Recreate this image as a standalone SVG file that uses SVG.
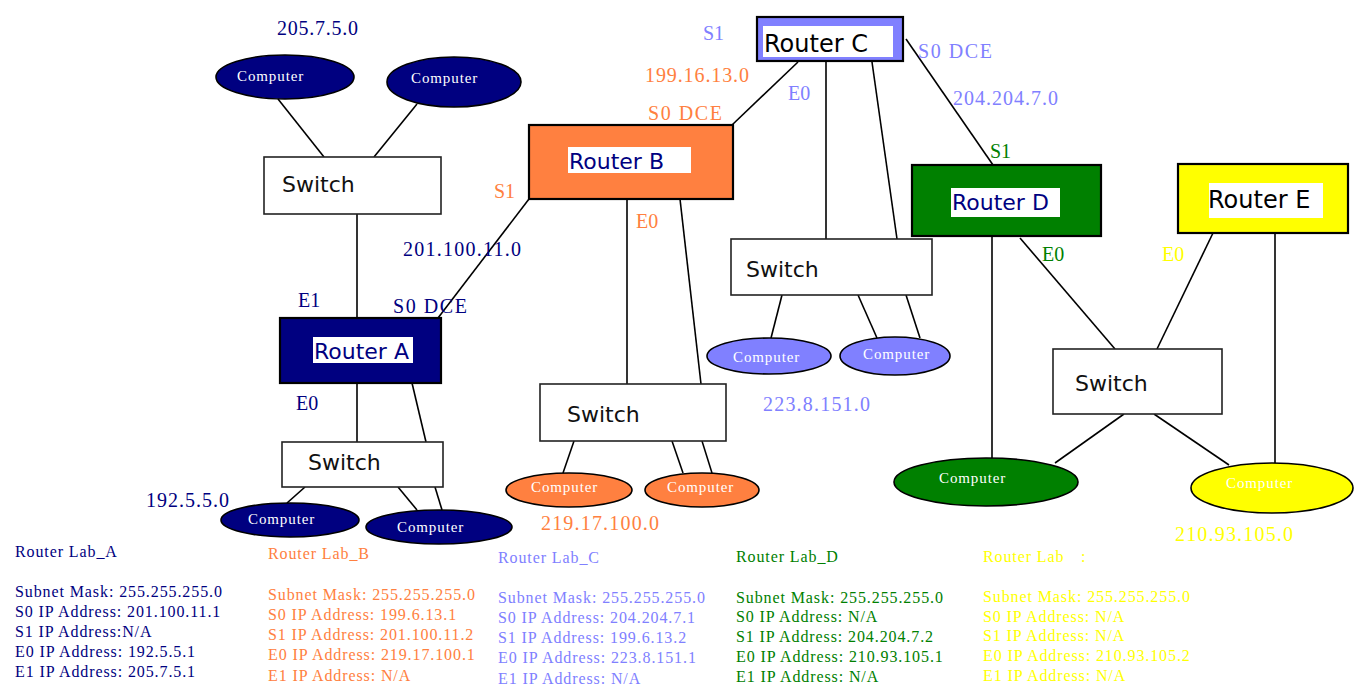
<svg xmlns="http://www.w3.org/2000/svg" width="1356" height="698" viewBox="0 0 1356 698">
<style>
.bg{fill:#ffffff}
.ln{stroke:#000;stroke-width:1.6;fill:none}
.sw rect{fill:#fff;stroke:#222;stroke-width:1.6}
.sw text{font-family:"DejaVu Sans",Verdana,sans-serif;font-size:22px;fill:#111}
.rt .box{stroke:#000;stroke-width:2.2}
.rt .in{fill:#fff;stroke:none}
.rt text{font-family:"DejaVu Sans",Verdana,sans-serif;font-size:22px}
.pc ellipse{stroke:#000;stroke-width:1.6}
.pc text{font-family:"Liberation Serif","Times New Roman",serif;font-size:15px;fill:#fff;letter-spacing:0.9px}
.lb{font-family:"Liberation Serif","Times New Roman",serif;font-size:20px}
.blk text{font-family:"Liberation Serif","Times New Roman",serif;font-size:16px;letter-spacing:0.9px}
.navy{fill:#000080}.org{fill:#ff8040}.pur{fill:#8080ff}.grn{fill:#008000}.yel{fill:#ffff00}
</style>
<rect class="bg" x="0" y="0" width="1356" height="698"/>

<g id="connectors">
<line class="ln" x1="278" y1="99" x2="324" y2="157"/>
<line class="ln" x1="417" y1="104" x2="374" y2="157"/>
<line class="ln" x1="357" y1="214" x2="357" y2="318"/>
<line class="ln" x1="357" y1="383" x2="357" y2="442"/>
<line class="ln" x1="412" y1="383" x2="426" y2="442"/>
<line class="ln" x1="305" y1="487" x2="287" y2="503"/>
<line class="ln" x1="398" y1="487" x2="417" y2="510"/>
<line class="ln" x1="435" y1="487" x2="442" y2="510"/>
<line class="ln" x1="438" y1="318" x2="529" y2="199"/>
<line class="ln" x1="732" y1="125" x2="798" y2="62"/>
<line class="ln" x1="627" y1="199" x2="627" y2="384"/>
<line class="ln" x1="680" y1="199" x2="701" y2="384"/>
<line class="ln" x1="574" y1="441" x2="563" y2="473"/>
<line class="ln" x1="672" y1="441" x2="683" y2="473"/>
<line class="ln" x1="702" y1="441" x2="712" y2="473"/>
<line class="ln" x1="826" y1="62" x2="826" y2="239"/>
<line class="ln" x1="872" y1="62" x2="897" y2="239"/>
<line class="ln" x1="906" y1="39" x2="993" y2="165"/>
<line class="ln" x1="782" y1="295" x2="771" y2="338"/>
<line class="ln" x1="858" y1="295" x2="877" y2="338"/>
<line class="ln" x1="906" y1="295" x2="920" y2="338"/>
<line class="ln" x1="992" y1="236" x2="992" y2="458"/>
<line class="ln" x1="1020" y1="238" x2="1115" y2="349"/>
<line class="ln" x1="1213" y1="233" x2="1157" y2="349"/>
<line class="ln" x1="1275" y1="233" x2="1275" y2="463"/>
<line class="ln" x1="1124" y1="414" x2="1055" y2="463"/>
<line class="ln" x1="1154" y1="414" x2="1229" y2="465"/>
</g>

<g id="routerC" class="rt">
<rect class="box" x="757" y="17" width="146" height="44" fill="#8080ff"/>
<rect class="in" x="763" y="26" width="130" height="31"/>
<text x="764" y="52" style="font-size:24px" fill="#000">Router C</text>
</g>
<g id="routerB" class="rt">
<rect class="box" x="529" y="125" width="204" height="74" fill="#ff8040"/>
<rect class="in" x="568" y="147" width="123" height="26"/>
<text x="569" y="169" fill="#000080">Router B</text>
</g>
<g id="routerA" class="rt">
<rect class="box" x="280" y="318" width="161" height="65" fill="#000080"/>
<rect class="in" x="313" y="337" width="100" height="26"/>
<text x="314" y="359" fill="#000080">Router A</text>
</g>
<g id="routerD" class="rt">
<rect class="box" x="912" y="165" width="189" height="71" fill="#008000"/>
<rect class="in" x="951" y="188" width="109" height="29"/>
<text x="952" y="210" fill="#000080">Router D</text>
</g>
<g id="routerE" class="rt">
<rect class="box" x="1178" y="164" width="170" height="69" fill="#ffff00"/>
<rect class="in" x="1209" y="183" width="114" height="35"/>
<text x="1208" y="208" style="font-size:24px" fill="#000">Router E</text>
</g>

<g id="switchTop" class="sw"><rect x="264" y="157" width="177" height="57"/><text x="282" y="192">Switch</text></g>
<g id="switchA" class="sw"><rect x="282" y="442" width="161" height="45"/><text x="308" y="470">Switch</text></g>
<g id="switchB" class="sw"><rect x="540" y="384" width="186" height="57"/><text x="567" y="422">Switch</text></g>
<g id="switchC" class="sw"><rect x="731" y="239" width="201" height="56"/><text x="746" y="277">Switch</text></g>
<g id="switchDE" class="sw"><rect x="1053" y="349" width="169" height="65"/><text x="1075" y="391">Switch</text></g>

<g id="pcTop1" class="pc"><ellipse cx="285" cy="77" rx="69" ry="22" fill="#000080"/><text x="237" y="81">Computer</text></g>
<g id="pcTop2" class="pc"><ellipse cx="454" cy="82" rx="67" ry="25" fill="#000080"/><text x="411" y="83">Computer</text></g>
<g id="pcA1" class="pc"><ellipse cx="290" cy="520" rx="69" ry="17" fill="#000080"/><text x="248" y="524">Computer</text></g>
<g id="pcA2" class="pc"><ellipse cx="439" cy="527" rx="73" ry="17" fill="#000080"/><text x="397" y="532">Computer</text></g>
<g id="pcB1" class="pc"><ellipse cx="569" cy="490" rx="63" ry="17" fill="#ff8040"/><text x="531" y="492">Computer</text></g>
<g id="pcB2" class="pc"><ellipse cx="702" cy="490" rx="57" ry="17" fill="#ff8040"/><text x="667" y="492">Computer</text></g>
<g id="pcC1" class="pc"><ellipse cx="769" cy="356" rx="62" ry="18" fill="#8080ff"/><text x="733" y="362">Computer</text></g>
<g id="pcC2" class="pc"><ellipse cx="895" cy="356" rx="55" ry="19" fill="#8080ff"/><text x="863" y="359">Computer</text></g>
<g id="pcD" class="pc"><ellipse cx="986" cy="482" rx="92" ry="24" fill="#008000"/><text x="939" y="483">Computer</text></g>
<g id="pcE" class="pc"><ellipse cx="1272" cy="488" rx="81" ry="25" fill="#ffff00"/><text x="1226" y="488">Computer</text></g>

<g id="labels" class="lb">
<text class="navy" x="277" y="35" textLength="81" lengthAdjust="spacing">205.7.5.0</text>
<text class="navy" x="403" y="256" textLength="118" lengthAdjust="spacing">201.100.11.0</text>
<text class="navy" x="298" y="307">E1</text>
<text class="navy" x="393" y="313" textLength="74" lengthAdjust="spacing">S0 DCE</text>
<text class="navy" x="296" y="410">E0</text>
<text class="navy" x="146" y="507" textLength="83" lengthAdjust="spacing">192.5.5.0</text>
<text class="org" x="645" y="82" textLength="104" lengthAdjust="spacing">199.16.13.0</text>
<text class="org" x="648" y="120" textLength="74" lengthAdjust="spacing">S0 DCE</text>
<text class="org" x="494" y="198">S1</text>
<text class="org" x="636" y="228">E0</text>
<text class="org" x="541" y="530" textLength="118" lengthAdjust="spacing">219.17.100.0</text>
<text class="pur" x="703" y="40">S1</text>
<text class="pur" x="918" y="58" textLength="74" lengthAdjust="spacing">S0 DCE</text>
<text class="pur" x="788" y="100">E0</text>
<text class="pur" x="953" y="105" textLength="105" lengthAdjust="spacing">204.204.7.0</text>
<text class="pur" x="763" y="411" textLength="107" lengthAdjust="spacing">223.8.151.0</text>
<text class="grn" x="990" y="158">S1</text>
<text class="grn" x="1042" y="261">E0</text>
<text class="yel" x="1162" y="261">E0</text>
<text class="yel" x="1175" y="541" textLength="118" lengthAdjust="spacing">210.93.105.0</text>
</g>

<g id="infoA" class="blk navy">
<text x="15" y="557">Router Lab_A</text>
<text x="15" y="597">Subnet Mask: 255.255.255.0</text>
<text x="15" y="617">S0 IP Address: 201.100.11.1</text>
<text x="15" y="637">S1 IP Address:N/A</text>
<text x="15" y="657">E0 IP Address: 192.5.5.1</text>
<text x="15" y="677">E1 IP Address: 205.7.5.1</text>
</g>
<g id="infoB" class="blk org">
<text x="268" y="559">Router Lab_B</text>
<text x="268" y="600">Subnet Mask: 255.255.255.0</text>
<text x="268" y="620">S0 IP Address: 199.6.13.1</text>
<text x="268" y="640">S1 IP Address: 201.100.11.2</text>
<text x="268" y="660">E0 IP Address: 219.17.100.1</text>
<text x="268" y="681">E1 IP Address: N/A</text>
</g>
<g id="infoC" class="blk pur">
<text x="498" y="563">Router Lab_C</text>
<text x="498" y="603">Subnet Mask: 255.255.255.0</text>
<text x="498" y="623">S0 IP Address: 204.204.7.1</text>
<text x="498" y="643">S1 IP Address: 199.6.13.2</text>
<text x="498" y="663">E0 IP Address: 223.8.151.1</text>
<text x="498" y="684">E1 IP Address: N/A</text>
</g>
<g id="infoD" class="blk grn">
<text x="736" y="562">Router Lab_D</text>
<text x="736" y="603">Subnet Mask: 255.255.255.0</text>
<text x="736" y="622">S0 IP Address: N/A</text>
<text x="736" y="642">S1 IP Address: 204.204.7.2</text>
<text x="736" y="662">E0 IP Address: 210.93.105.1</text>
<text x="736" y="682">E1 IP Address: N/A</text>
</g>
<g id="infoE" class="blk yel">
<text x="983" y="562">Router Lab</text>
<text x="1081" y="562">:</text>
<text x="983" y="602">Subnet Mask: 255.255.255.0</text>
<text x="983" y="622">S0 IP Address: N/A</text>
<text x="983" y="641">S1 IP Address: N/A</text>
<text x="983" y="661">E0 IP Address: 210.93.105.2</text>
<text x="983" y="681">E1 IP Address: N/A</text>
</g>
</svg>
